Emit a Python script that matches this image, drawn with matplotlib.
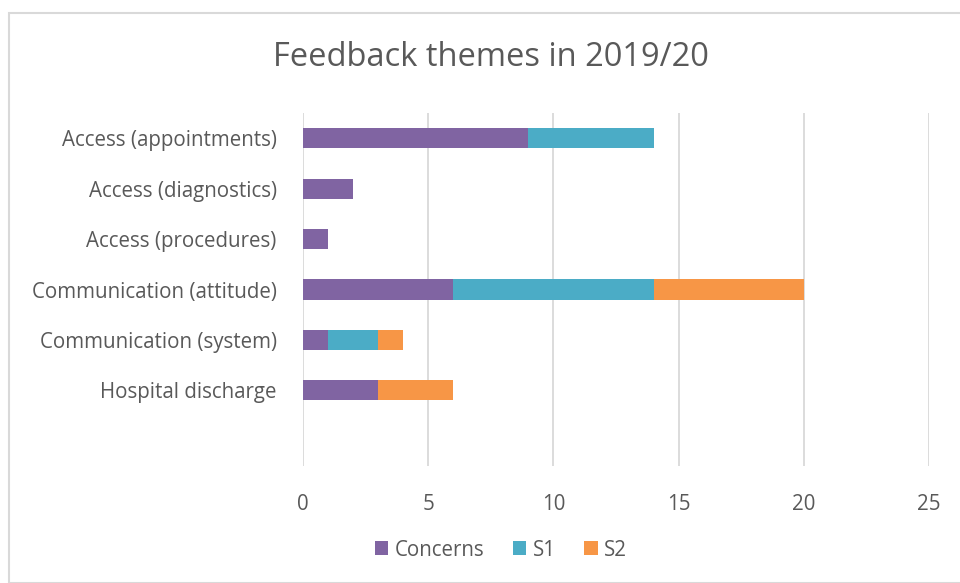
import numpy as np
import matplotlib.pyplot as plt
from matplotlib.patches import Rectangle

# Data
categories = ['Access (appointments)', 'Access (diagnostics)', 'Access (procedures)',
              'Communication (attitude)', 'Communication (system)', 'Hospital discharge']
concerns = [9, 2, 1, 6, 1, 3]
s1 = [5, 0, 0, 8, 2, 0]
s2 = [0, 0, 0, 6, 1, 3]
x_ticks = [0, 5, 10, 15, 20, 25]

colors = {'Concerns': '#8064A2', 'S1': '#4BACC6', 'S2': '#F79646'}
text_color = '#595959'

plt.rcParams['font.family'] = ['Open Sans', 'DejaVu Sans']

fig = plt.figure(figsize=(9.6, 5.83), dpi=100)
# light chart border
fig.patches.append(Rectangle((9 / 960, 0), 1, 1 - 13 / 583, transform=fig.transFigure,
                             fill=False, edgecolor='#D9D9D9', linewidth=1.5))

ax = fig.add_axes([303 / 960, 1 - 466 / 583, (929 - 303) / 960, (466 - 113) / 583])

y = np.arange(len(categories))
concerns = np.array(concerns)
s1 = np.array(s1)
s2 = np.array(s2)

ax.barh(y, concerns, height=0.4, color=colors['Concerns'], label='Concerns', zorder=3)
ax.barh(y, s1, left=concerns, height=0.4, color=colors['S1'], label='S1', zorder=3)
ax.barh(y, s2, left=concerns + s1, height=0.4, color=colors['S2'], label='S2', zorder=3)

ax.set_xlim(0, 25)
ax.set_ylim(len(categories) + 0.5, -0.5)
ax.set_xticks(x_ticks)
ax.set_yticks(y)
ax.set_yticklabels(categories)
ax.grid(axis='x', color='#D9D9D9', linewidth=1.3, zorder=0)
for s in ax.spines.values():
    s.set_visible(False)
ax.tick_params(axis='both', length=0, labelsize=14.8, colors=text_color)
ax.tick_params(axis='x', pad=20)
ax.tick_params(axis='y', pad=19)

fig.text(491 / 960, 1 - 58 / 583, 'Feedback themes in 2019/20', ha='center', va='center',
         fontsize=23.5, color=text_color)

fig.legend(loc='center', bbox_to_anchor=(501 / 960, 1 - 550 / 583), ncol=3, frameon=False,
           fontsize=14.8, labelcolor=text_color, handlelength=0.65, handleheight=0.65,
           handletextpad=0.3, columnspacing=1.4)

fig.savefig('out.png', dpi=100)
